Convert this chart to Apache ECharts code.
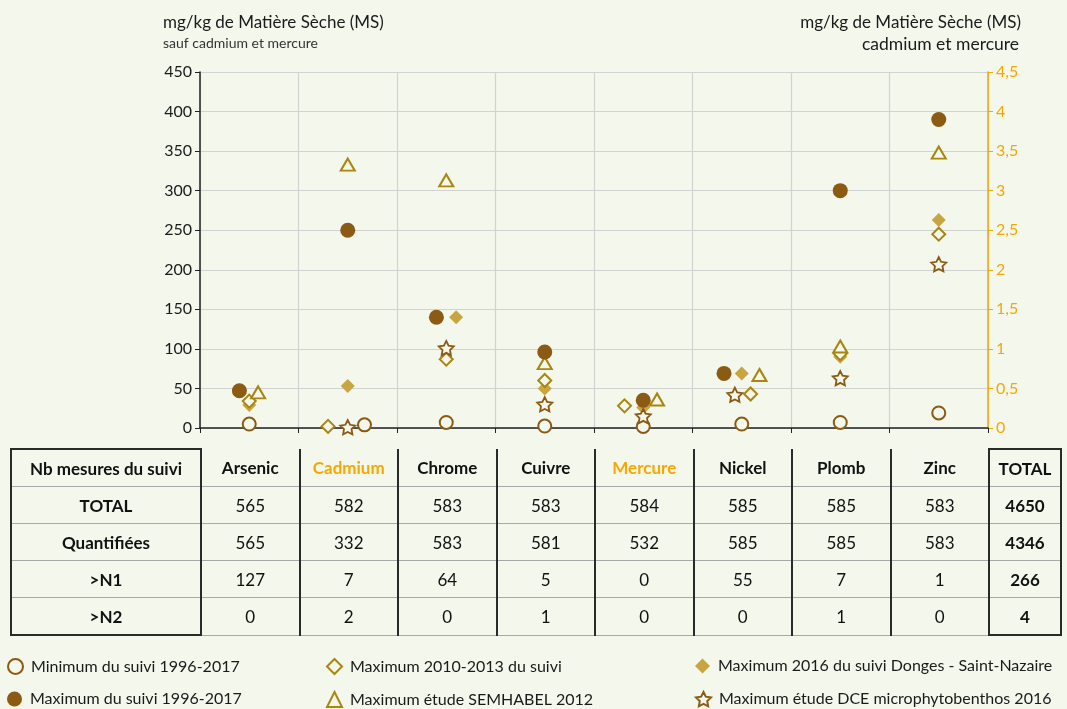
<!DOCTYPE html>
<html><head><meta charset="utf-8">
<script src="https://cdn.jsdelivr.net/npm/echarts@6/dist/echarts.min.js"></script>
<style>
html,body{margin:0;padding:0;background:#F3F7EC;}
#chart{position:absolute;left:0;top:0;width:1067px;height:709px;}
#tbl{position:absolute;left:10px;top:448px;border-collapse:collapse;table-layout:fixed;font-family:Lato,"Open Sans",sans-serif;font-size:17px;color:#111;z-index:2;}
#tbl td{height:36px;padding:0;text-align:center;border-bottom:1.5px solid #a8a8a8;border-left:2px solid #2a2a2a;}
#tbl tr.head td, #tbl td.lab, #tbl td.tot{font-weight:bold;}
#tbl td.lab{border-left:2px solid #2a2a2a;border-right:2px solid #2a2a2a;}
#tbl tr.head td.lab, #tbl tr.head td.tot{border-top:2px solid #2a2a2a;}
#tbl tr.last td.lab, #tbl tr.last td.tot{border-bottom:2px solid #2a2a2a;}
#tbl td.tot{border-right:2px solid #2a2a2a;}
#tbl td.orange{color:#F5A800;}
</style>
</head><body>
<div id="chart"></div>
<table id="tbl"></table>
<script>
// ---- data ----
const categories = ['Arsenic','Cadmium','Chrome','Cuivre','Mercure','Nickel','Plomb','Zinc'];
const rightAxisMetals = ['Cadmium','Mercure'];
const minSuivi     = [5, 0.04, 7, 2.5, 0.02, 5, 7, 19];
const maxSuivi     = [47, 2.5, 140, 96, 0.35, 69, 300, 390];
const max2010_2013 = [34, 0.02, 87, 60, 0.28, 43, 94, 245];
const max2016      = [29, 0.53, 140, 50, 0.26, 69, 90, 263];
const semhabel     = [45, 3.33, 313, 82, 0.36, 67, 103, 348];
const dce          = [null, 0.01, 101, 30, 0.15, 42, 63, 207];
const leftTicks  = [0,50,100,150,200,250,300,350,400,450];
const rightTicks = ['0','0,5','1','1,5','2','2,5','3','3,5','4','4,5'];
const tableHeader = 'Nb mesures du suivi';
const rowLabels = ['TOTAL','Quantifiées','>N1','>N2'];
const rowTotal       = [565,582,583,583,584,585,585,583];
const rowQuantifiees = [565,332,583,581,532,585,585,583];
const rowN1          = [127,7,64,5,0,55,7,1];
const rowN2          = [0,2,0,1,0,0,1,0];
const rowSums        = [4650,4346,266,4];

// ---- layout (point spreading within a category, in category units) ----
const spread = {
  min:   {Cadmium:0.17},
  max:   {Arsenic:-0.1, Chrome:-0.1, Nickel:-0.18},
  m1013: {Cadmium:-0.2, Mercure:-0.19, Nickel:0.09},
  m2016: {Chrome:0.1},
  sem:   {Arsenic:0.09, Mercure:0.14, Nickel:0.18},
  dce:   {Nickel:-0.07}
};

const BG = '#F3F7EC';
const BROWN = '#8B5A13';
const OLIVE = '#A8860F';
const GOLD = '#C8A541';
const ORANGE = '#F5A800';
const FONT = 'Lato';
const STAR = 'path://M100 0 L129.4 59.5 L195.1 69.1 L147.6 115.5 L158.8 180.9 L100 150 L41.2 180.9 L52.4 115.5 L4.9 69.1 L70.6 59.5 Z';

const defs = [
  {key:'m2016', name:'Maximum 2016 du suivi Donges - Saint-Nazaire', vals:max2016, symbol:'diamond', size:14, style:{color:GOLD}},
  {key:'min', name:'Minimum du suivi 1996-2017', vals:minSuivi, symbol:'circle', size:13, style:{color:BG, borderColor:BROWN, borderWidth:2}},
  {key:'m1013', name:'Maximum 2010-2013 du suivi', vals:max2010_2013, symbol:'diamond', size:13, style:{color:BG, borderColor:OLIVE, borderWidth:2}},
  {key:'sem', name:'Maximum étude SEMHABEL 2012', vals:semhabel, symbol:'triangle', size:[14,12], style:{color:BG, borderColor:OLIVE, borderWidth:2}},
  {key:'dce', name:'Maximum étude DCE microphytobenthos 2016', vals:dce, symbol:STAR, size:15, style:{color:BG, borderColor:BROWN, borderWidth:1.8}},
  {key:'max', name:'Maximum du suivi 1996-2017', vals:maxSuivi, symbol:'circle', size:15, style:{color:BROWN}}
];

const series = [];
defs.forEach(d => {
  [0,1].forEach(axisIdx => {
    const data = [];
    categories.forEach((c,i) => {
      const onRight = rightAxisMetals.includes(c);
      if ((axisIdx===1) !== onRight) return;
      if (d.vals[i] == null) return;
      data.push([i + 0.5 + (spread[d.key][c] || 0), d.vals[i]]);
    });
    series.push({
      type:'scatter', name:d.name, yAxisIndex:axisIdx, data,
      symbol:d.symbol, symbolSize:d.size, symbolKeepAspect:true,
      itemStyle:Object.assign({opacity:1}, d.style), silent:true, animation:false
    });
  });
});

const legendText = {color:'#1a1a1a', fontSize:16, fontFamily:FONT, padding:[0,0,0,3]};
const mkLegend = (left, top, name) => ({
  orient:'horizontal', left, top, itemWidth:15, itemHeight:15, padding:0,
  selectedMode:false, textStyle:legendText, data:[name]
});

const chart = echarts.init(document.getElementById('chart'), null, {renderer:'canvas'});
chart.setOption({
  backgroundColor:BG,
  animation:false,
  textStyle:{fontFamily:FONT},
  grid:{left:200, top:72, width:788, height:356},
  xAxis:{type:'value', min:0, max:categories.length, interval:1,
    axisLine:{show:true, onZero:false, lineStyle:{color:'#222', width:1.5}},
    axisTick:{show:true, length:5, lineStyle:{color:'#222'}},
    axisLabel:{show:false},
    splitLine:{show:true, lineStyle:{color:'#d2d2d2', width:1.2}}},
  yAxis:[
    {type:'value', min:0, max:450, interval:50,
      axisLine:{show:true, lineStyle:{color:'#222', width:1.5}},
      axisTick:{show:true, length:5, lineStyle:{color:'#222'}},
      axisLabel:{color:'#1a1a1a', fontSize:16, fontFamily:FONT, margin:8,
        formatter:v => String(leftTicks[Math.round(v/50)])},
      splitLine:{show:true, lineStyle:{color:'#d2d2d2', width:1.2}}},
    {type:'value', min:0, max:4.5, interval:0.5, position:'right',
      axisLine:{show:true, lineStyle:{color:ORANGE, width:1.5}},
      axisTick:{show:true, length:5, lineStyle:{color:ORANGE}},
      axisLabel:{color:ORANGE, fontSize:16, fontFamily:FONT, margin:8,
        formatter:v => rightTicks[Math.round(v/0.5)]},
      splitLine:{show:false}}
  ],
  legend:[
    mkLegend(7, 658, 'Minimum du suivi 1996-2017'),
    mkLegend(7, 691, 'Maximum du suivi 1996-2017'),
    mkLegend(326, 658, 'Maximum 2010-2013 du suivi'),
    mkLegend(326, 691, 'Maximum étude SEMHABEL 2012'),
    mkLegend(695, 658, 'Maximum 2016 du suivi Donges - Saint-Nazaire'),
    mkLegend(695, 691, 'Maximum étude DCE microphytobenthos 2016')
  ],
  graphic:[
    {type:'text', left:163, top:14, style:{text:'mg/kg de Matière Sèche (MS)', fill:'#1a1a1a', font:'17px '+FONT}},
    {type:'text', left:163, top:36, style:{text:'sauf cadmium et mercure', fill:'#333', font:'14px '+FONT}},
    {type:'text', right:46, top:14, style:{text:'mg/kg de Matière Sèche (MS)', fill:'#1a1a1a', font:'17px '+FONT}},
    {type:'text', right:48, top:35, style:{text:'cadmium et mercure', fill:'#1a1a1a', font:'17.5px '+FONT}}
  ],
  series
});

// ---- table ----
const tbl = document.getElementById('tbl');
const colgroup = document.createElement('colgroup');
const widths = [190].concat(categories.map(() => 98.5)).concat([72]);
widths.forEach(w => { const c = document.createElement('col'); c.style.width = w+'px'; colgroup.appendChild(c); });
tbl.appendChild(colgroup);
const tbody = document.createElement('tbody');
tbl.appendChild(tbody);
const addRow = (cells, cls) => {
  const tr = document.createElement('tr');
  if (cls) tr.className = cls;
  cells.forEach(([txt, c]) => {
    const td = document.createElement('td');
    td.textContent = txt; if (c) td.className = c;
    tr.appendChild(td);
  });
  tbody.appendChild(tr);
};
addRow([[tableHeader,'lab']].concat(categories.map(c => [c, rightAxisMetals.includes(c)?'orange':''])).concat([['TOTAL','tot']]), 'head');
const rowsData = [rowTotal,rowQuantifiees,rowN1,rowN2];
rowsData.forEach((r,k) => {
  addRow([[rowLabels[k],'lab']].concat(r.map(v => [String(v),''])).concat([[String(rowSums[k]),'tot']]),
    k === rowsData.length-1 ? 'last' : '');
});
</script>
</body></html>
